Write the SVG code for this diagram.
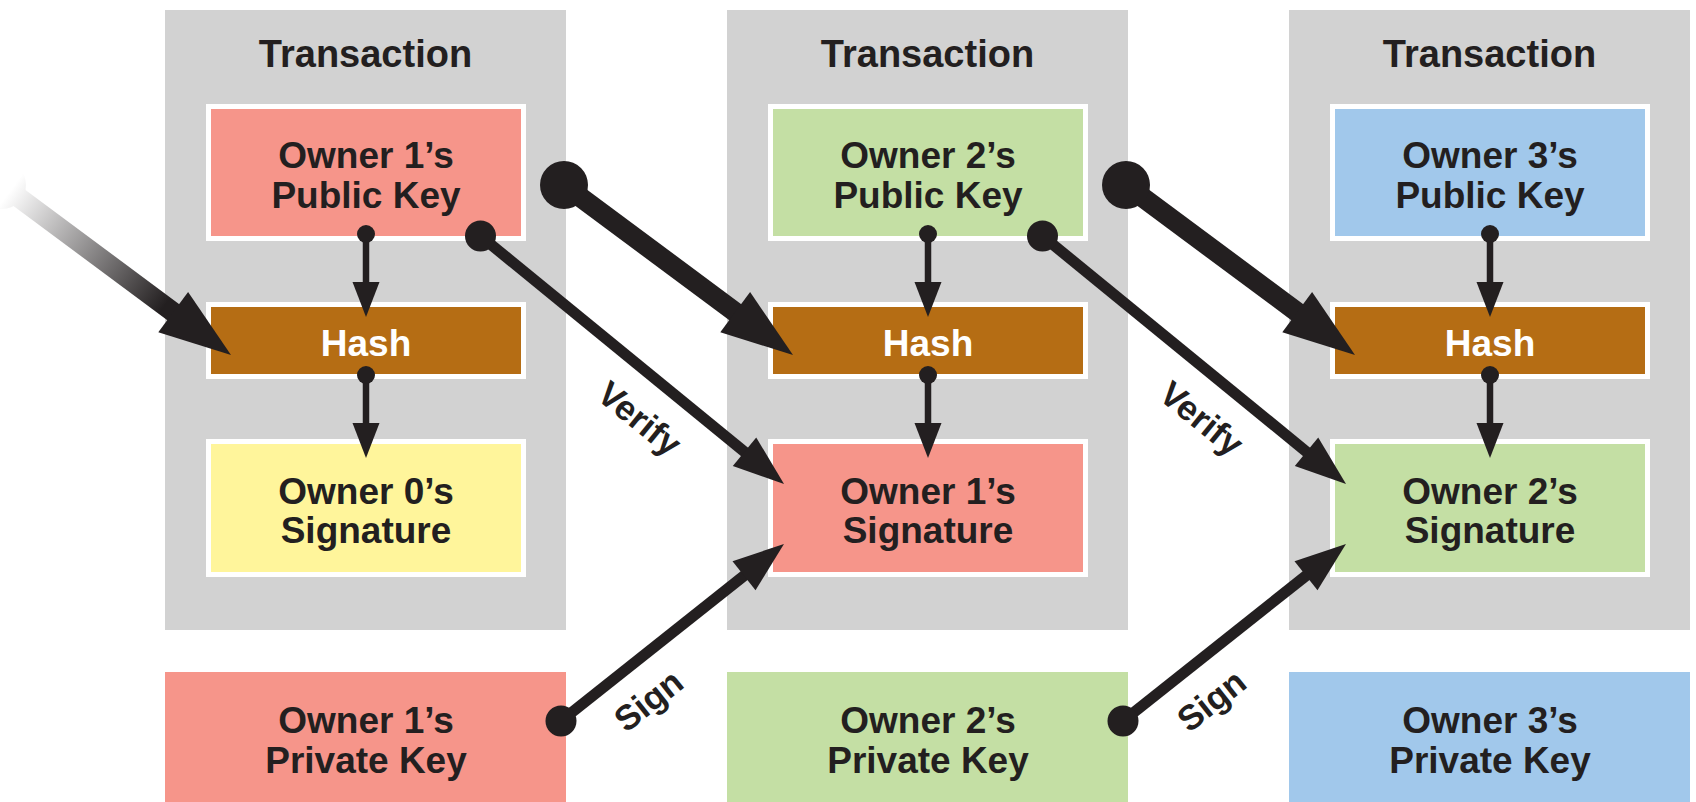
<svg xmlns="http://www.w3.org/2000/svg" width="1696" height="802" viewBox="0 0 1696 802">
<style>
.panel{fill:#d2d2d2}
.boxed{stroke:#fff;stroke-width:5}
.pink{fill:#f6958a}
.green{fill:#c4dfa4}
.blue{fill:#a1c8eb}
.yellow{fill:#fff59b}
.hash{fill:#b56d14}
text{font-family:"Liberation Sans",Arial,sans-serif;font-weight:bold;text-anchor:middle;fill:#231f20}
.t{font-size:38px}
.b{font-size:37px}
.h{fill:#fff}
.lbl{font-size:35px}
.big{stroke:#231f20;stroke-width:20;fill:none;marker-start:url(#dL);marker-end:url(#hL)}
.med{stroke:#231f20;stroke-width:11;fill:none;marker-start:url(#dM);marker-end:url(#hM)}
.sm{stroke:#231f20;stroke-width:6.5;fill:none;marker-start:url(#dS);marker-end:url(#hS)}
</style>
<defs>
<marker id="hL" markerUnits="userSpaceOnUse" orient="auto" refX="0" refY="0" markerWidth="1" markerHeight="1" style="overflow:visible"><path d="M-1,-25L71,0L-1,25Z" fill="#231f20"/></marker>
<marker id="hM" markerUnits="userSpaceOnUse" orient="auto" refX="0" refY="0" markerWidth="1" markerHeight="1" style="overflow:visible"><path d="M-1,-18.5L50,0L-1,18.5Z" fill="#231f20"/></marker>
<marker id="hS" markerUnits="userSpaceOnUse" orient="auto" refX="0" refY="0" markerWidth="1" markerHeight="1" style="overflow:visible"><path d="M-1,-13.5L34,0L-1,13.5Z" fill="#231f20"/></marker>
<marker id="dL" markerUnits="userSpaceOnUse" refX="0" refY="0" markerWidth="1" markerHeight="1" style="overflow:visible"><circle r="24" fill="#231f20"/></marker>
<marker id="dM" markerUnits="userSpaceOnUse" refX="0" refY="0" markerWidth="1" markerHeight="1" style="overflow:visible"><circle r="15.5" fill="#231f20"/></marker>
<marker id="dS" markerUnits="userSpaceOnUse" refX="0" refY="0" markerWidth="1" markerHeight="1" style="overflow:visible"><circle r="9" fill="#231f20"/></marker>
<linearGradient id="fade" gradientUnits="userSpaceOnUse" x1="10" y1="191" x2="165" y2="305">
<stop offset="0" stop-color="#ffffff"/>
<stop offset="1" stop-color="#231f20"/>
</linearGradient>
</defs>

<g id="tx1">
<rect class="panel" x="165" y="10" width="401" height="620"/>
<text class="t" x="365.5" y="67">Transaction</text>
</g>
<g id="tx2">
<rect class="panel" x="727" y="10" width="401" height="620"/>
<text class="t" x="927.5" y="67">Transaction</text>
</g>
<g id="tx3">
<rect class="panel" x="1289" y="10" width="401" height="620"/>
<text class="t" x="1489.5" y="67">Transaction</text>
</g>

<g id="pub1"><rect class="boxed pink" x="208.5" y="106.5" width="315" height="132"/>
<text class="b" x="366" y="168">Owner 1’s</text><text class="b" x="366" y="208">Public Key</text></g>
<g id="hash1"><rect class="boxed hash" x="208.5" y="304.5" width="315" height="72"/>
<text class="b h" x="366" y="356">Hash</text></g>
<g id="sig1"><rect class="boxed yellow" x="208.5" y="441.5" width="315" height="133"/>
<text class="b" x="366" y="504">Owner 0’s</text><text class="b" x="366" y="543">Signature</text></g>
<g id="priv1"><rect class="pink" x="165" y="672" width="401" height="130"/>
<text class="b" x="366" y="733">Owner 1’s</text><text class="b" x="366" y="773">Private Key</text></g>

<g id="pub2"><rect class="boxed green" x="770.5" y="106.5" width="315" height="132"/>
<text class="b" x="928" y="168">Owner 2’s</text><text class="b" x="928" y="208">Public Key</text></g>
<g id="hash2"><rect class="boxed hash" x="770.5" y="304.5" width="315" height="72"/>
<text class="b h" x="928" y="356">Hash</text></g>
<g id="sig2"><rect class="boxed pink" x="770.5" y="441.5" width="315" height="133"/>
<text class="b" x="928" y="504">Owner 1’s</text><text class="b" x="928" y="543">Signature</text></g>
<g id="priv2"><rect class="green" x="727" y="672" width="401" height="130"/>
<text class="b" x="928" y="733">Owner 2’s</text><text class="b" x="928" y="773">Private Key</text></g>

<g id="pub3"><rect class="boxed blue" x="1332.5" y="106.5" width="315" height="132"/>
<text class="b" x="1490" y="168">Owner 3’s</text><text class="b" x="1490" y="208">Public Key</text></g>
<g id="hash3"><rect class="boxed hash" x="1332.5" y="304.5" width="315" height="72"/>
<text class="b h" x="1490" y="356">Hash</text></g>
<g id="sig3"><rect class="boxed green" x="1332.5" y="441.5" width="315" height="133"/>
<text class="b" x="1490" y="504">Owner 2’s</text><text class="b" x="1490" y="543">Signature</text></g>
<g id="priv3"><rect class="blue" x="1289" y="672" width="401" height="130"/>
<text class="b" x="1490" y="733">Owner 3’s</text><text class="b" x="1490" y="773">Private Key</text></g>

<g id="connectors">
<circle cx="2" cy="185" r="24" fill="url(#fade)"/>
<line x1="2" y1="185" x2="174" y2="312.7" stroke="url(#fade)" stroke-width="20" marker-end="url(#hL)"/>
<line class="big" x1="564" y1="185" x2="736" y2="312.7"/>
<line class="big" x1="1126" y1="185" x2="1298" y2="312.7"/>

<line class="sm" x1="366" y1="234" x2="366" y2="283"/>
<line class="sm" x1="366" y1="375" x2="366" y2="424"/>
<line class="sm" x1="928" y1="234" x2="928" y2="283"/>
<line class="sm" x1="928" y1="375" x2="928" y2="424"/>
<line class="sm" x1="1490" y1="234" x2="1490" y2="283"/>
<line class="sm" x1="1490" y1="375" x2="1490" y2="424"/>

<line class="med" x1="480.5" y1="236" x2="745.3" y2="452.4"/>
<line class="med" x1="1042.5" y1="236" x2="1307.3" y2="452.4"/>
<line class="med" x1="561" y1="721" x2="744.8" y2="575.1"/>
<line class="med" x1="1123" y1="721" x2="1306.8" y2="575.1"/>

<text class="lbl" transform="translate(632,428) rotate(39)">Verify</text>
<text class="lbl" transform="translate(1194,428) rotate(39)">Verify</text>
<text class="lbl" transform="translate(656,710) rotate(-38.4)">Sign</text>
<text class="lbl" transform="translate(1219,710) rotate(-38.4)">Sign</text>
</g>
</svg>
